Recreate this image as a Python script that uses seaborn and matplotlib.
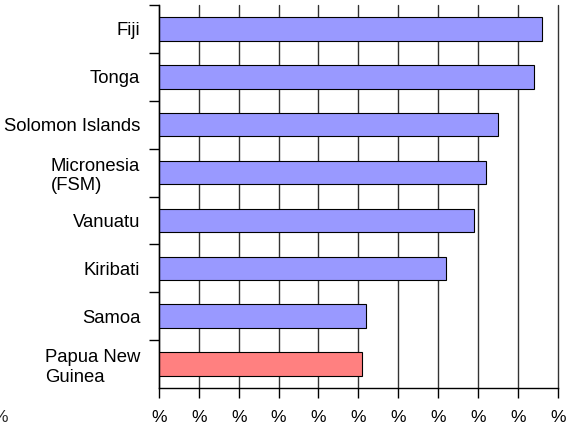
import matplotlib
matplotlib.use("Agg")
import matplotlib.pyplot as plt
from matplotlib.ticker import FixedLocator
import seaborn as sns
import pandas as pd

# Country shares, ordered top to bottom
countries = ["Fiji", "Tonga", "Solomon Islands", "Micronesia\n(FSM)",
             "Vanuatu", "Kiribati", "Samoa", "Papua New\nGuinea"]
shares = [96, 94, 85, 82, 79, 72, 52, 51]
bar_colors = ["#9999FF"] * 7 + ["#FF8080"]
x_ticks = [0, 10, 20, 30, 40, 50, 60, 70, 80, 90, 100]
x_tick_labels = ["%"] * len(x_ticks)

sns.set_theme(style="white")
plt.rcParams["font.family"] = ["Liberation Sans", "DejaVu Sans"]

df = pd.DataFrame({"country": countries, "share": shares})

fig = plt.figure(figsize=(5.72, 4.29), dpi=100)
ax = fig.add_axes([159 / 572, 1 - 388 / 429, (557.7 - 159) / 572, (388 - 5) / 429])

sns.barplot(data=df, x="share", y="country", hue="country", palette=bar_colors,
            orient="h", width=0.49, edgecolor="black", linewidth=0.8,
            legend=False, ax=ax, saturation=1)

ax.set_xlim(0, 100)
ax.set_ylim(7.5, -0.5)
ax.set_xlabel("")
ax.set_ylabel("")

ax.set_xticks(x_ticks)
ax.set_xticklabels(x_tick_labels, fontsize=12.5)
ax.grid(axis="x", color="#333333", linewidth=1)
ax.grid(axis="y", visible=False)
for gl in ax.get_xgridlines():
    gl.set_clip_on(False)
ax.set_axisbelow(True)

# category labels sit between boundary ticks
ax.set_yticks(range(len(countries)))
ax.set_yticklabels(countries, fontsize=13.3)
for lab in ax.get_yticklabels():
    lab.set_multialignment("left")
ax.yaxis.set_minor_locator(FixedLocator([i - 0.5 for i in range(len(countries))]))
ax.tick_params(axis="y", which="major", length=0, pad=13.5)
ax.tick_params(axis="y", which="minor", left=True, length=7.2, width=1, color="black")
ax.tick_params(axis="x", which="major", bottom=True, length=7.2, width=1,
               color="black", pad=9, labelcolor="black")
ax.tick_params(axis="y", labelcolor="black")

for side in ["top", "right"]:
    ax.spines[side].set_visible(False)
for side in ["left", "bottom"]:
    ax.spines[side].set_color("black")
    ax.spines[side].set_linewidth(1)

fig.text(0.0, 1 - 417.5 / 429, "%", ha="center", va="center", fontsize=12.5)

fig.savefig("out.png", dpi=100)
